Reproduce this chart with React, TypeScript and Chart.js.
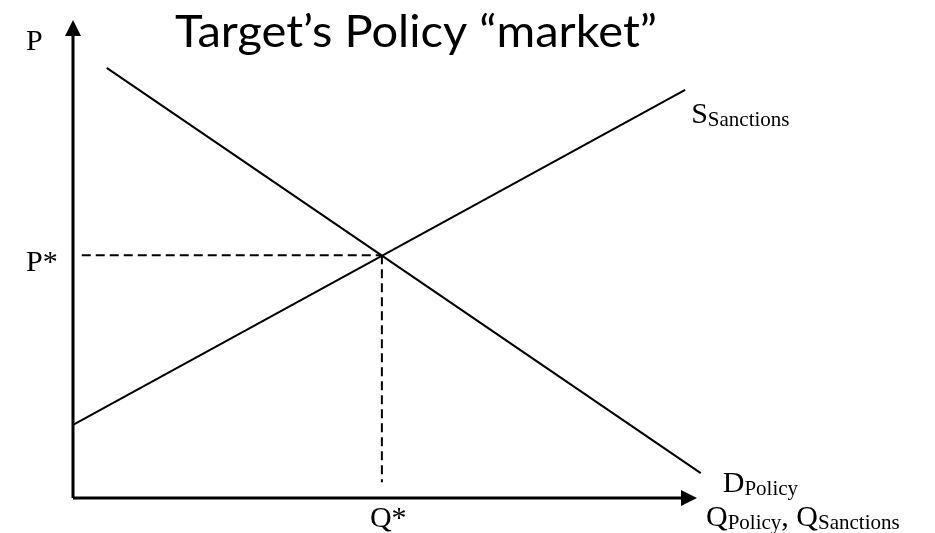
import React, { useEffect, useRef } from "react";
import { Chart, registerables } from "chart.js";

Chart.register(...registerables);

// ---- data (Q on x, P on y, both 0..100 units) ----
const axisMax = 100;
const supplyQ = [0, 98.1];
const supplyP = [15.3, 85.4];
const demandQ = [5.4, 100.6];
const demandP = [90, 5.2];
const eqQ = 49.5;
const eqP = 50.8;
const dashStartQ = 1.4;
const dashEndP = 3.3;
const titleText = "Target\u2019s Policy \u201cmarket\u201d";
const yLabel = "P";
const pStarLabel = "P*";
const qStarLabel = "Q*";
const supplyLabel = ["S", "Sanctions"];
const demandLabel = ["D", "Policy"];
const xLabel = [["Q", "Policy"], [", ", ""], ["Q", "Sanctions"]];

const SERIF = "'Liberation Serif', 'Times New Roman', serif";

function drawSub(ctx: CanvasRenderingContext2D, parts: string[][], x: number, y: number) {
  let cx = x;
  for (const [main, sub] of parts) {
    ctx.font = `30px ${SERIF}`;
    ctx.fillText(main, cx, y);
    cx += ctx.measureText(main).width;
    if (sub) {
      ctx.font = `21px ${SERIF}`;
      ctx.fillText(sub, cx, y + 3);
      cx += ctx.measureText(sub).width;
    }
  }
}

const overlay = {
  id: "overlay",
  afterDatasetsDraw(chart: any) {
    const ctx: CanvasRenderingContext2D = chart.ctx;
    const xs = chart.scales.x;
    const ys = chart.scales.y;
    const x0 = xs.getPixelForValue(0);
    const y0 = ys.getPixelForValue(0);
    const xTip = xs.getPixelForValue(axisMax);
    const yTip = ys.getPixelForValue(axisMax);
    ctx.save();
    ctx.fillStyle = "#000";
    // arrow heads
    ctx.beginPath();
    ctx.moveTo(x0, yTip);
    ctx.lineTo(x0 - 8, yTip + 16);
    ctx.lineTo(x0 + 8, yTip + 16);
    ctx.closePath();
    ctx.fill();
    ctx.beginPath();
    ctx.moveTo(xTip, y0);
    ctx.lineTo(xTip - 16, y0 - 8);
    ctx.lineTo(xTip - 16, y0 + 8);
    ctx.closePath();
    ctx.fill();

    // title
    ctx.font = `44px Lato, 'Open Sans', sans-serif`;
    ctx.textBaseline = "alphabetic";
    const w = ctx.measureText(titleText).width;
    const targetW = 482;
    ctx.save();
    ctx.translate(175, 47);
    ctx.scale(targetW / w, 1);
    ctx.fillText(titleText, 0, 0);
    ctx.restore();

    // serif labels
    ctx.font = `30px ${SERIF}`;
    ctx.fillText(yLabel, x0 - 47, yTip + 30);
    ctx.fillText(pStarLabel, x0 - 47, ys.getPixelForValue(eqP) + 16);
    ctx.fillText(qStarLabel, xs.getPixelForValue(eqQ) - 12, y0 + 29);
    drawSub(ctx, [supplyLabel], xs.getPixelForValue(supplyQ[1]) + 6, ys.getPixelForValue(supplyP[1]) + 33);
    drawSub(ctx, [demandLabel], xs.getPixelForValue(demandQ[1]) + 22, ys.getPixelForValue(demandP[1]) + 19);
    drawSub(ctx, xLabel, xTip + 9, y0 + 28);
    ctx.restore();
  },
};

export default function App() {
  const ref = useRef<HTMLCanvasElement>(null);
  useEffect(() => {
    document.body.style.margin = "0";
    const line = (pts: { x: number; y: number }[], width: number, dash: number[] = []) => ({
      data: pts,
      showLine: true,
      borderColor: "#000",
      backgroundColor: "#000",
      borderWidth: width,
      borderDash: dash,
      pointRadius: 0,
      clip: false as any,
      tension: 0,
    });
    const chart = new Chart(ref.current!, {
      type: "scatter",
      data: {
        datasets: [
          line([{ x: 0, y: 0 }, { x: 0, y: axisMax - 2 }], 3),
          line([{ x: 0, y: 0 }, { x: axisMax - 2, y: 0 }], 3),
          line(supplyQ.map((q, i) => ({ x: q, y: supplyP[i] })), 2),
          line(demandQ.map((q, i) => ({ x: q, y: demandP[i] })), 2),
          line([{ x: dashStartQ, y: eqP }, { x: eqQ, y: eqP }], 2, [9, 5]),
          line([{ x: eqQ, y: eqP }, { x: eqQ, y: dashEndP }], 2, [9, 5]),
        ],
      },
      options: {
        responsive: false,
        animation: false,
        layout: { padding: { left: 73, right: 238, top: 20, bottom: 35 } },
        plugins: { legend: { display: false }, tooltip: { enabled: false }, title: { display: false } },
        scales: {
          x: { type: "linear", min: 0, max: axisMax, display: false },
          y: { type: "linear", min: 0, max: axisMax, display: false },
        },
      },
      plugins: [overlay],
    });
    return () => chart.destroy();
  }, []);
  return (
    <div style={{ position: "absolute", left: 0, top: 0, width: 935, height: 533, background: "#fff" }}>
      <canvas ref={ref} width={935} height={533} />
    </div>
  );
}
